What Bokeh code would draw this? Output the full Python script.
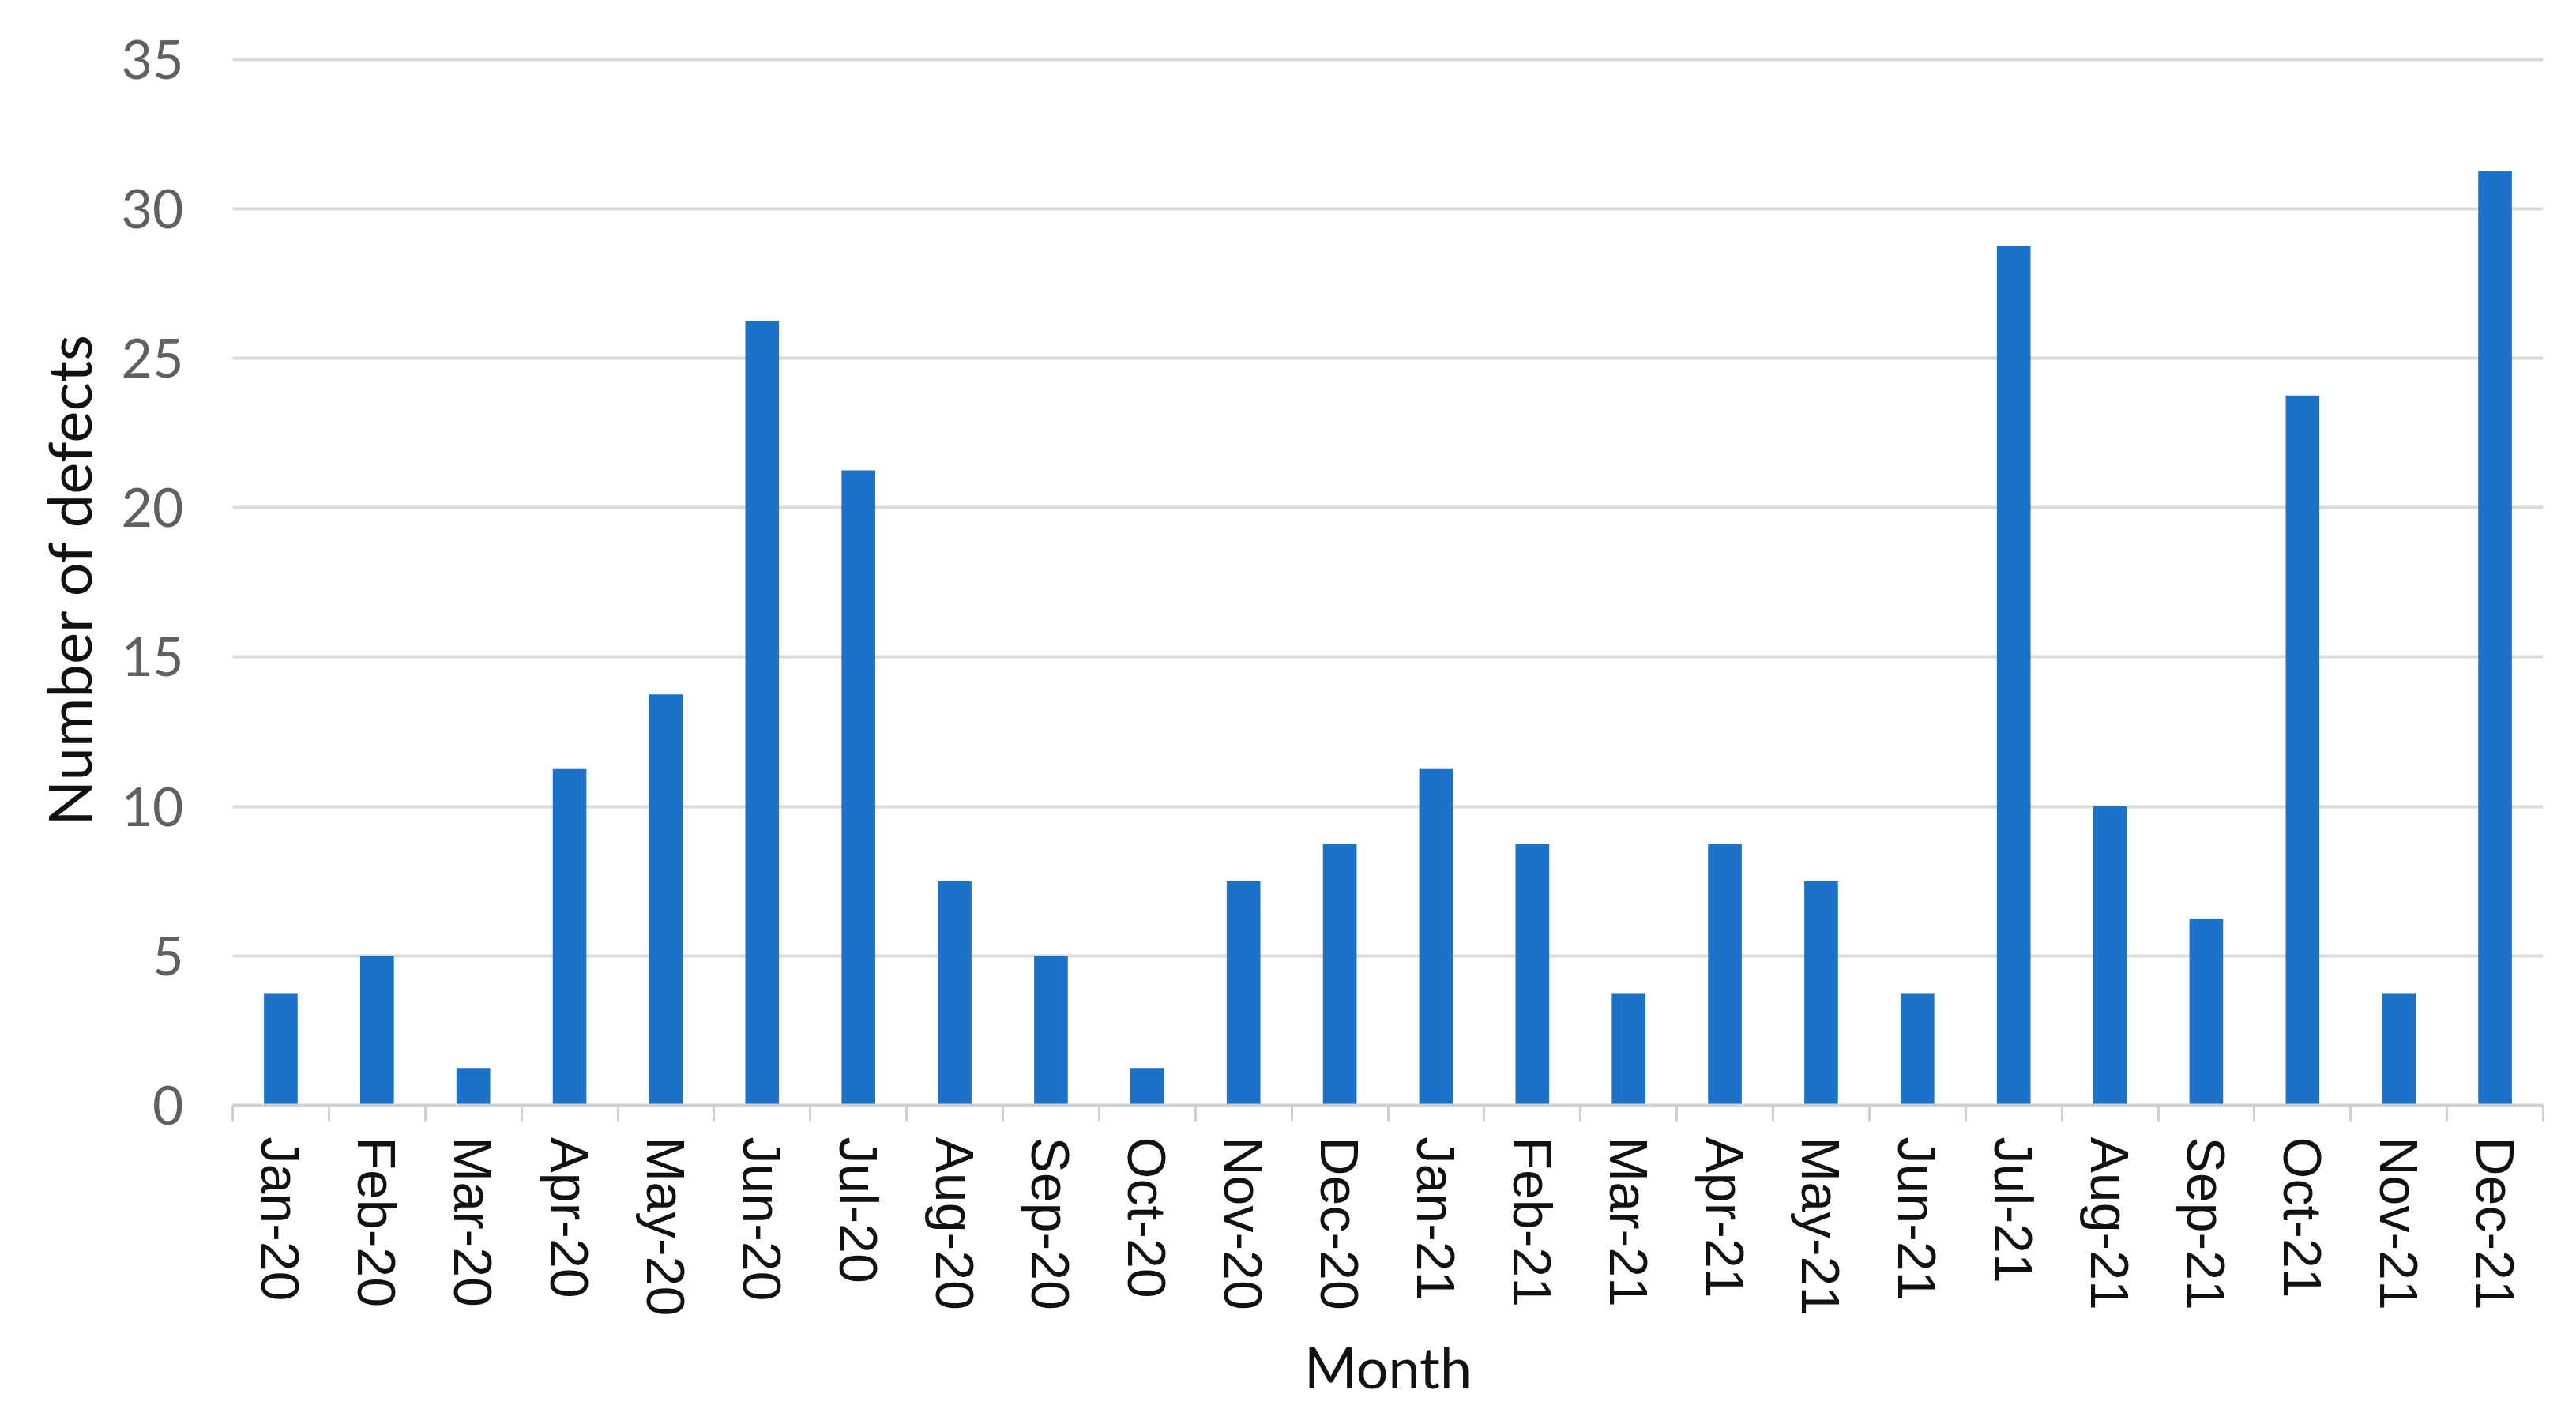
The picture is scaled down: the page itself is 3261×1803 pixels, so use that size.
from bokeh.plotting import figure
from bokeh.models import FixedTicker, Range1d, ColumnDataSource, Title
from bokeh.embed import file_html
from bokeh.resources import INLINE

months = ["Jan-20", "Feb-20", "Mar-20", "Apr-20", "May-20", "Jun-20", "Jul-20", "Aug-20",
          "Sep-20", "Oct-20", "Nov-20", "Dec-20", "Jan-21", "Feb-21", "Mar-21", "Apr-21",
          "May-21", "Jun-21", "Jul-21", "Aug-21", "Sep-21", "Oct-21", "Nov-21", "Dec-21"]
defects = [3.75, 5, 1.25, 11.25, 13.75, 26.25, 21.25, 7.5,
           5, 1.25, 7.5, 8.75, 11.25, 8.75, 3.75, 8.75,
           7.5, 3.75, 28.75, 10, 6.25, 23.75, 3.75, 31.25]
y_ticks = [0, 5, 10, 15, 20, 25, 30, 35]
x_title = "Month"
y_title = "Number of defects"

n = len(months)
centers = [i + 0.5 for i in range(n)]
bounds = list(range(n + 1))

src = ColumnDataSource(dict(x=centers, top=defects, month=months))

p = figure(width=3245, height=1787, output_backend="svg", toolbar_location=None,
           x_range=Range1d(0, n), y_range=Range1d(0, 35.2),
           min_border_left=294, min_border_right=26, min_border_top=67, min_border_bottom=379)
p.outline_line_color = None
p.background_fill_color = "white"
p.border_fill_color = "white"

p.vbar(x="x", top="top", width=0.35, bottom=0, source=src, fill_color="#1b72c8", line_color=None)

# y axis
p.yaxis.ticker = FixedTicker(ticks=y_ticks)
p.yaxis.axis_line_color = None
p.yaxis.major_tick_line_color = None
p.yaxis.minor_tick_line_color = None
p.yaxis.major_label_text_font = "Lato"
p.yaxis.major_label_text_font_size = "68px"
p.yaxis.major_label_text_color = "#606060"
p.yaxis.major_label_standoff = 56
p.yaxis.axis_label = y_title
p.yaxis.axis_label_text_font = "Lato"
p.yaxis.axis_label_text_font_style = "normal"
p.yaxis.axis_label_text_font_size = "76px"
p.yaxis.axis_label_text_color = "#111111"
p.yaxis.axis_label_standoff = 19

p.ygrid.ticker = FixedTicker(ticks=y_ticks)
p.ygrid.grid_line_color = "#d9d9d9"
p.ygrid.grid_line_width = 4
p.xgrid.grid_line_color = None

# x axis: labels at centers, tick marks at category boundaries
p.xaxis.ticker = FixedTicker(ticks=centers, minor_ticks=bounds)
p.xaxis.major_label_overrides = {c: m for c, m in zip(centers, months)}
p.xaxis.major_label_orientation = "vertical"
p.xaxis.major_tick_line_color = None
p.xaxis.major_tick_in = 0
p.xaxis.major_tick_out = 0
p.xaxis.minor_tick_line_color = "#d0d0d0"
p.xaxis.minor_tick_line_width = 3
p.xaxis.minor_tick_in = 0
p.xaxis.minor_tick_out = 20
p.xaxis.axis_line_color = "#d0d0d0"
p.xaxis.axis_line_width = 4
p.xaxis.major_label_text_font = "Liberation Sans"
p.xaxis.major_label_text_font_size = "68px"
p.xaxis.major_label_text_color = "#111111"
p.xaxis.major_label_standoff = 20

# x axis title as a centred title below the tick labels
p.add_layout(Title(text=x_title, align="center", text_font="Lato", text_font_size="72px",
                   text_font_style="normal", text_color="#111111", standoff=30), "below")

open("out.html", "w").write(file_html(p, INLINE))
